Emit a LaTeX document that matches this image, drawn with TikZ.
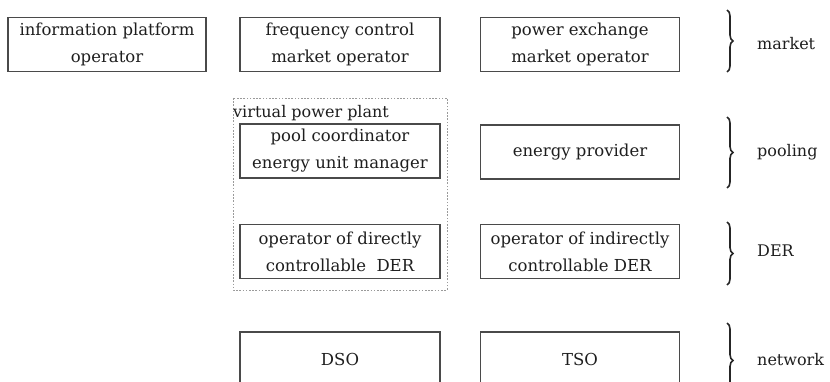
\documentclass[tikz,border=0pt]{standalone}
\usepackage{fontspec}
\setmainfont{DejaVu Serif}
\usetikzlibrary{decorations.pathreplacing}
\definecolor{edge}{HTML}{4A4A4A}
\definecolor{ink}{HTML}{1E1E1E}
\definecolor{dots}{HTML}{9A9A9A}
\tikzset{
  role/.style={draw=edge, line width=1.3pt, rectangle, minimum width=200pt,
    minimum height=54pt, align=center, text=ink, inner sep=0pt,
    font=\fontsize{16.5}{27}\selectfont},
  layer/.style={anchor=west, text=ink, font=\fontsize{16}{22}\selectfont, inner sep=0pt},
  bracket/.style={decorate, decoration={brace, amplitude=6pt}, line width=1.6pt, draw=black!85},
  group/.style={draw=dots, line width=0.9pt, dash pattern=on 1.6pt off 1.6pt}
}
% two centred lines with a wide line pitch, sitting slightly low in the box
\newcommand{\twolines}[2]{\raisebox{-3.5pt}{\parbox{196pt}{\centering\fontsize{16.5}{27}\selectfont #1\\#2}}}
\begin{document}
\begin{tikzpicture}[x=1pt,y=-1pt]
\useasboundingbox (0,0) rectangle (830,382);
\clip (0,0) rectangle (830,382);

% market row
\node[role, minimum width=198pt] (info) at (107,44.5) {\twolines{information platform}{operator}};
\node[role] (freq) at (340,44.5) {\twolines{frequency control}{market operator}};
\node[role, minimum width=199pt] (pex) at (580,44.5) {\twolines{power exchange}{market operator}};

% virtual power plant grouping
\draw[group] (233,98) rectangle (447,290);
\node[anchor=west, text=ink, inner sep=0pt, font=\fontsize{16}{22}\selectfont] (vpp) at (233,113) {virtual power plant};

% pooling row
\node[role] (pool) at (340,151) {\twolines{pool coordinator}{energy unit manager}};
\node[role, minimum width=199pt] (prov) at (580,152) {energy provider};

% DER row
\node[role] (direct) at (340,251.5) {\twolines{operator of directly}{controllable\ \ DER}};
\node[role, minimum width=199pt] (indirect) at (580,251.5) {\twolines{operator\ of indirectly}{controllable\ DER}};

% network row
\node[role] (dso) at (340,359) {DSO};
\node[role, minimum width=199pt] (tso) at (580,359) {TSO};

% layer braces
\coordinate (m1) at (727,10);  \coordinate (m2) at (727,72);
\coordinate (p1) at (727,117); \coordinate (p2) at (727,188);
\coordinate (d1) at (727,222); \coordinate (d2) at (727,285);
\coordinate (n1) at (727,323); \coordinate (n2) at (727,398);
\draw[bracket] (m1) -- (m2);
\draw[bracket] (p1) -- (p2);
\draw[bracket] (d1) -- (d2);
\draw[bracket] (n1) -- (n2);

\node[layer] (lmarket) at (757,44) {market};
\node[layer] (lpool) at (757,152) {pooling};
\node[layer] (lder) at (757,251) {DER};
\node[layer] (lnet) at (757,360) {network};
\end{tikzpicture}
\end{document}
